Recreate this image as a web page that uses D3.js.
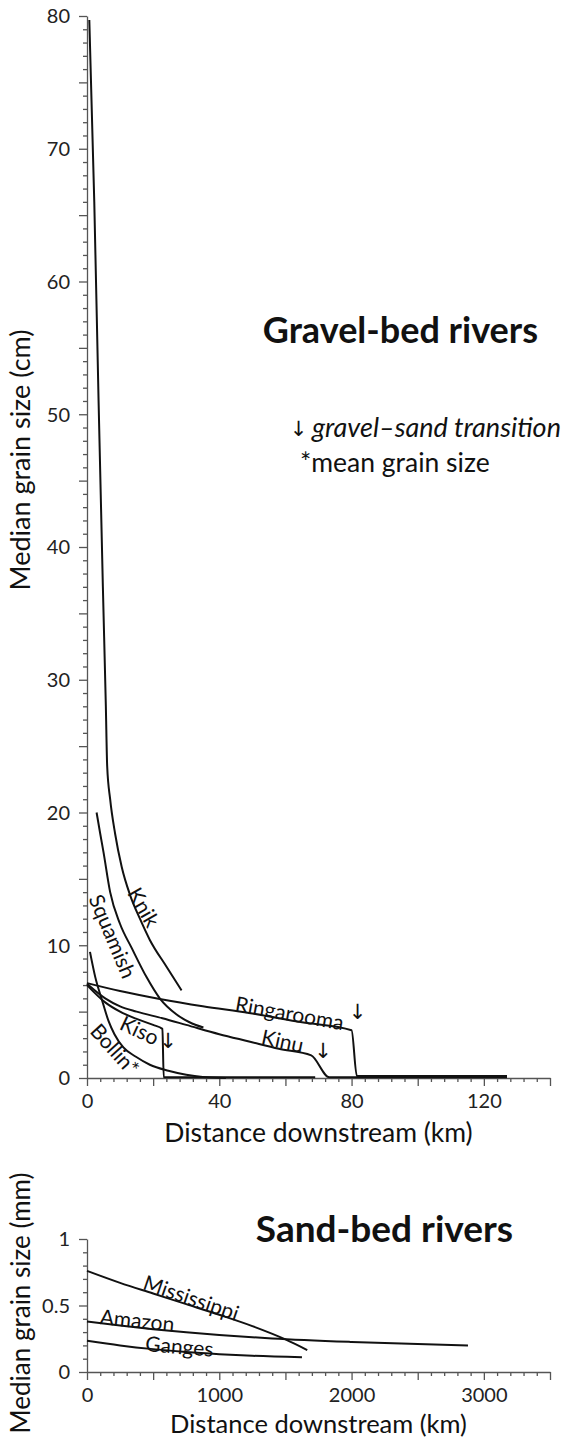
<!DOCTYPE html>
<html>
<head>
<meta charset="utf-8">
<script src="https://cdn.jsdelivr.net/npm/d3@7"></script>
<style>
  body { margin: 0; background: #fff; }
  text { font-family: Lato, "Open Sans", sans-serif; fill: #111; }
  .axis path, .axis line { stroke: #555; stroke-width: 1.3; }
  .axis text { font-size: 20px; fill: #222; font-family: Lato, "Open Sans", sans-serif; }
  .river { fill: none; stroke: #111; stroke-width: 2; }
  .lbl { font-size: 21px; }
  .arrow { font-family: "DejaVu Sans", sans-serif; font-size: 21px; }
</style>
</head>
<body>
<script>
//////////////////////
// DATA
// gravel-bed rivers: [distance km, median grain size cm]
const knik       = [[0.7,79.7],[2.2,66],[3.5,51],[4.8,37],[5.7,28],[6.1,23.5],[7,21],[8.5,18.4],[10.5,15.9],[13,13.8],[16,12],[19,10.4],[24,8.4],[28.6,6.6]];
const squamish   = [[2.9,20],[4,18.4],[5,17],[7,14],[10,11.6],[13.5,9.8],[18,7.6],[22,6],[27,4.8],[31,4.2],[35.2,3.8]];
const bollin     = [[0.9,9.5],[2.5,7.6],[4.5,5.9],[6.5,4.3],[8.3,3.3],[11,2.3],[14.8,1.6],[19,1.0],[24.6,0.55],[30,0.25],[35,0.08],[42,0]];
const kiso       = [[0,7.0],[5.5,5.7],[10,5.0],[15,4.45],[20,4.0],[22.8,3.7],[23.2,0.05],[69,0.05]];
const kinu       = [[0,7.1],[5.5,6.0],[10,5.4],[15,5.0],[22.8,4.5],[30,4.0],[40,3.3],[49,2.75],[58,2.2],[67.8,1.7],[73.3,0.05],[127,0.05]];
const ringarooma = [[0,7.15],[10,6.55],[22,5.95],[35,5.4],[49,4.9],[65,4.2],[80,3.6],[81.6,0.15],[127,0.15]];

// sand-bed rivers: [distance km, median grain size mm]
const mississippi = [[0,0.76],[250,0.67],[500,0.59],[750,0.51],[1000,0.43],[1250,0.345],[1500,0.245],[1665,0.165]];
const amazon      = [[0,0.38],[250,0.35],[500,0.322],[750,0.298],[1000,0.278],[1400,0.252],[2000,0.226],[2500,0.21],[2880,0.2]];
const ganges      = [[0,0.235],[250,0.2],[500,0.172],[750,0.15],[1000,0.134],[1250,0.122],[1625,0.11]];

// tick labels
const gravelXTicks = [0, 40, 80, 120];
const gravelYTicks = [0, 10, 20, 30, 40, 50, 60, 70, 80];
const sandXTicks   = [0, 1000, 2000, 3000];
const sandYTicks   = [0, 0.5, 1];

// transitions marked with an arrow: [km, cm]
const transitions = [[24.5, 2.8], [71.4, 2.05], [81.8, 5.0]];
//////////////////////

const w = 563, h = 1438;

let svg = d3.select("body")
  .append("svg")
  .attr("width", w)
  .attr("height", h);

// scales
let xGravel = d3.scaleLinear().domain([0, 140]).range([87, 550]);
let yGravel = d3.scaleLinear().domain([0, 80]).range([1078, 16]);
let xSand = d3.scaleLinear().domain([0, 3500]).range([87, 550]);
let ySand = d3.scaleLinear().domain([0, 1]).range([1372, 1239]);

// draws an axis in three layers: labelled major ticks, medium ticks, minor ticks
function drawAxis(axisFn, scale, pos, major, medium, minor, fmt, horizontal) {
  let g = svg.append("g").attr("class", "axis").attr("transform", pos);
  g.call(axisFn(scale).tickValues(major).tickSize(8).tickSizeOuter(0).tickPadding(horizontal ? 8 : 9).tickFormat(fmt));
  g.selectAll("text").attr("dy", horizontal ? "0.71em" : "0.34em");
  let gm = svg.append("g").attr("class", "axis").attr("transform", pos);
  gm.call(axisFn(scale).tickValues(medium).tickSize(8).tickFormat(""));
  gm.select(".domain").remove();
  let gn = svg.append("g").attr("class", "axis").attr("transform", pos);
  gn.call(axisFn(scale).tickValues(minor).tickSize(4).tickFormat(""));
  gn.select(".domain").remove();
}

const notIn = (arr) => (v) => !arr.some(a => Math.abs(a - v) < 1e-9);

// gravel axes
drawAxis(d3.axisLeft, yGravel, "translate(87,0)", gravelYTicks,
  d3.range(5, 80, 10),
  d3.range(0, 81, 1).filter(v => v % 5 != 0), d3.format("d"), false);
drawAxis(d3.axisBottom, xGravel, "translate(0,1078)", gravelXTicks,
  [20, 60, 100, 140],
  d3.range(0, 141, 4).filter(v => v % 20 != 0), d3.format("d"), true);

// sand axes
drawAxis(d3.axisLeft, ySand, "translate(87,0)", sandYTicks,
  [],
  d3.range(0, 11).map(v => v / 10).filter(notIn(sandYTicks)), d => d == 0.5 ? "0.5" : d3.format("d")(d), false);
drawAxis(d3.axisBottom, xSand, "translate(0,1372)", sandXTicks,
  [500, 1500, 2500, 3500],
  d3.range(0, 3501, 100).filter(v => v % 500 != 0), d3.format("d"), true);

// lines
let lineGravel = d3.line().x(d => xGravel(d[0])).y(d => yGravel(d[1])).curve(d3.curveMonotoneX);
let lineSand = d3.line().x(d => xSand(d[0])).y(d => ySand(d[1])).curve(d3.curveMonotoneX);

svg.selectAll("path.g")
  .data([knik, squamish, bollin, kiso, kinu, ringarooma])
  .enter().append("path")
  .attr("class", "river g")
  .attr("d", lineGravel);

svg.selectAll("path.s")
  .data([mississippi, amazon, ganges])
  .enter().append("path")
  .attr("class", "river s")
  .attr("d", lineSand);

// river labels
function label(txt, x, y, angle) {
  svg.append("text")
    .attr("class", "lbl")
    .attr("text-anchor", "middle")
    .attr("dominant-baseline", "central")
    .attr("transform", `translate(${x},${y}) rotate(${angle})`)
    .text(txt);
}
label("Knik", xGravel(17.4), yGravel(12.9), 60);
label("Squamish", xGravel(8.0), yGravel(10.7), 67);
label("Ringarooma", xGravel(61.3), yGravel(4.95), 10);
label("Kinu", xGravel(59.2), yGravel(2.85), 12);
label("Kiso", xGravel(16), yGravel(3.65), 25);
label("Bollin*", xGravel(8.6), yGravel(2.2), 48);

label("Mississippi", xSand(790), ySand(0.565), 19);
label("Amazon", xSand(380), ySand(0.395), 6);
label("Ganges", xSand(700), ySand(0.2), 5);

// transition arrows
svg.selectAll("text.tr")
  .data(transitions)
  .enter().append("text")
  .attr("class", "arrow tr")
  .attr("text-anchor", "middle")
  .attr("dominant-baseline", "central")
  .attr("x", d => xGravel(d[0]))
  .attr("y", d => yGravel(d[1]))
  .text("↓");

// titles
svg.append("text")
  .attr("x", 538).attr("y", 343)
  .attr("text-anchor", "end")
  .style("font-weight", "bold").style("font-size", "36px")
  .text("Gravel-bed rivers");
svg.append("text")
  .attr("x", 513).attr("y", 1242)
  .attr("text-anchor", "end")
  .style("font-weight", "bold").style("font-size", "37px")
  .text("Sand-bed rivers");

// legend
svg.append("text")
  .attr("class", "arrow")
  .attr("x", 298.5).attr("y", 429)
  .attr("text-anchor", "middle")
  .attr("dominant-baseline", "central")
  .text("↓");
svg.append("text")
  .attr("x", 312).attr("y", 437)
  .style("font-size", "27px").style("font-style", "italic")
  .text("gravel–sand transition");
svg.append("text")
  .attr("x", 300).attr("y", 472)
  .style("font-size", "26.5px")
  .text("*mean grain size");

// axis titles
svg.append("text")
  .attr("x", 318.5).attr("y", 1142)
  .attr("text-anchor", "middle")
  .style("font-size", "26.5px")
  .text("Distance downstream (km)");
svg.append("text")
  .attr("x", 318.5).attr("y", 1433)
  .attr("text-anchor", "middle")
  .style("font-size", "25.5px")
  .text("Distance downstream (km)");
svg.append("text")
  .attr("transform", "translate(30,460) rotate(-90)")
  .attr("text-anchor", "middle")
  .style("font-size", "27px")
  .text("Median grain size (cm)");
svg.append("text")
  .attr("transform", "translate(30,1303) rotate(-90)")
  .attr("text-anchor", "middle")
  .style("font-size", "26px")
  .text("Median grain size (mm)");
</script>
</body>
</html>
